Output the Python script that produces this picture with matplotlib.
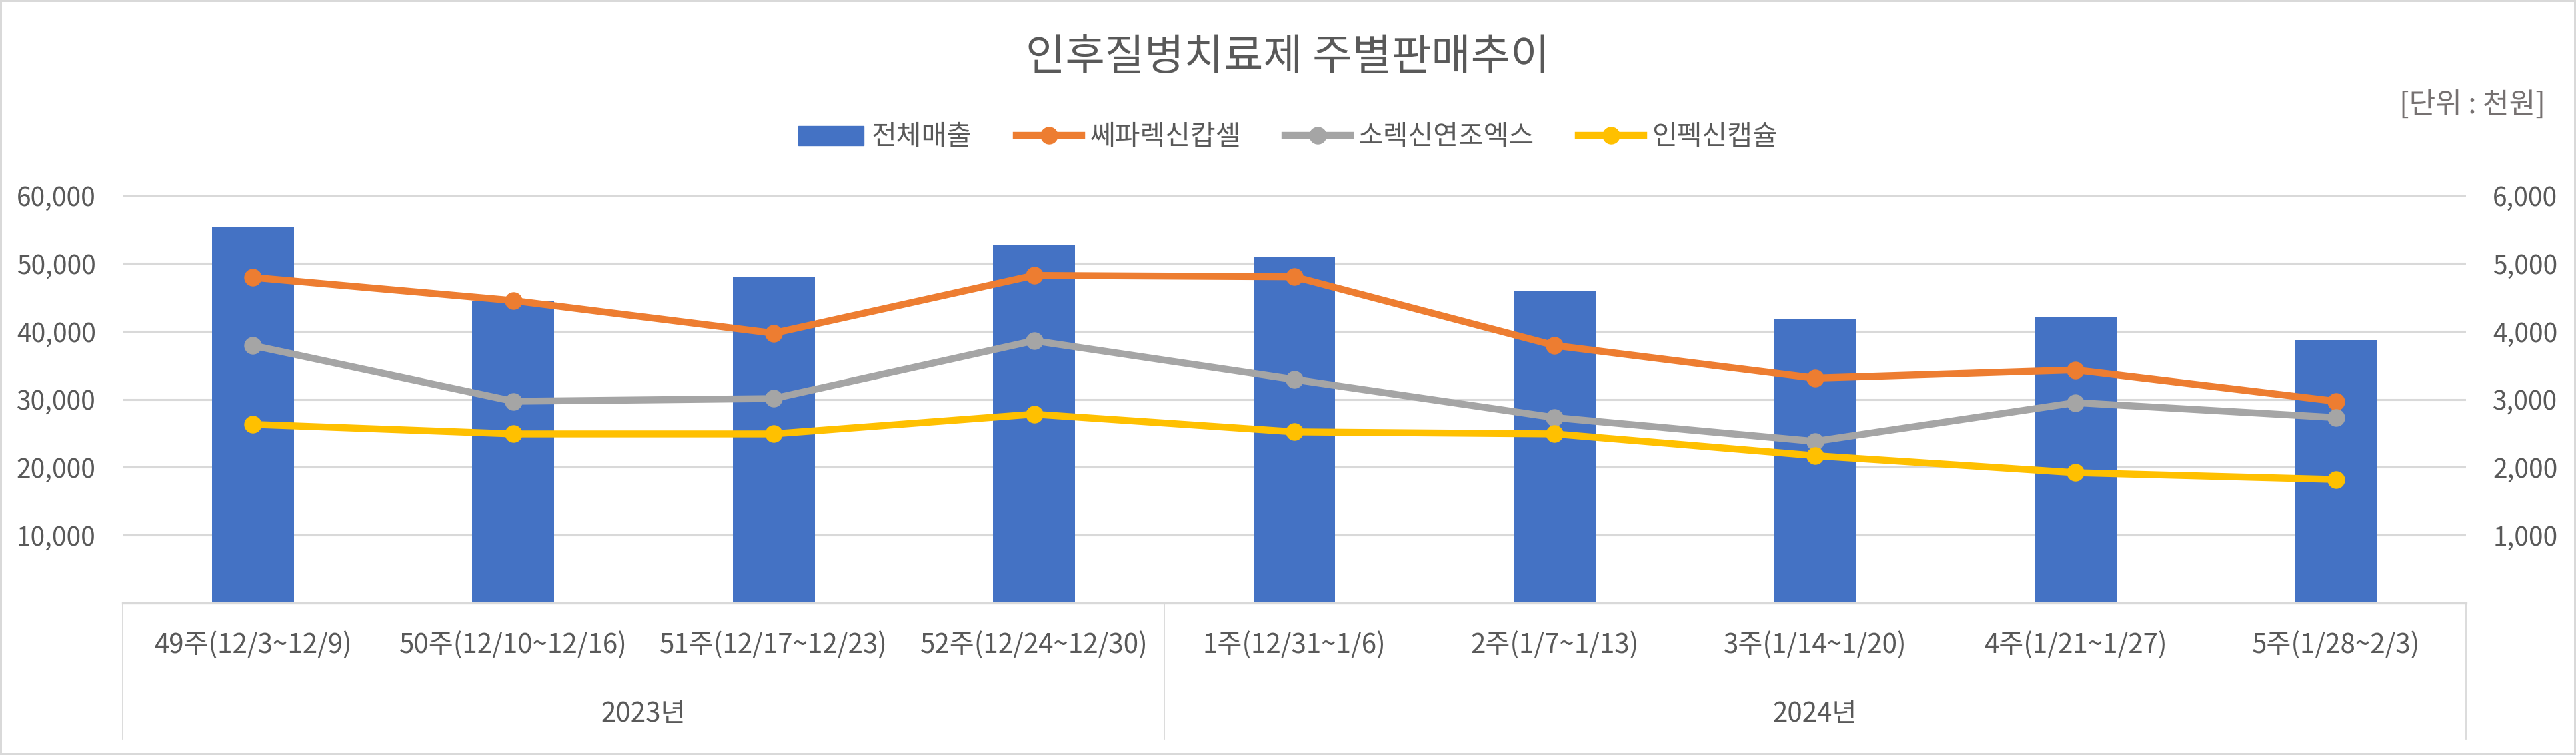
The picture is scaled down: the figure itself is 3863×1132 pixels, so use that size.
import matplotlib
matplotlib.use("Agg")
import matplotlib.pyplot as plt
import matplotlib.transforms as mtransforms
from matplotlib.patches import Patch
from matplotlib.lines import Line2D
from matplotlib.ticker import FuncFormatter
import numpy as np

plt.rcParams['font.family'] = ['Noto Sans CJK KR', 'DejaVu Sans']

# data (천원)
weeks = ['49주(12/3~12/9)', '50주(12/10~12/16)', '51주(12/17~12/23)', '52주(12/24~12/30)',
         '1주(12/31~1/6)', '2주(1/7~1/13)', '3주(1/14~1/20)', '4주(1/21~1/27)', '5주(1/28~2/3)']
years = ['2023년', '2024년']
year_counts = [4, 5]

total_sales = [55400, 44500, 47900, 52600, 50900, 46000, 41800, 42000, 38700]
cefalexin = [4790, 4450, 3970, 4820, 4800, 3790, 3310, 3430, 2970]
sorexin = [3790, 2970, 3010, 3860, 3290, 2730, 2380, 2950, 2730]
inpexin = [2630, 2490, 2490, 2780, 2520, 2490, 2170, 1920, 1820]

title = '인후질병치료제 주별판매추이'
unit_label = '[단위 : 천원]'
bar_name = '전체매출'
line_names = ['쎄파렉신캅셀', '소렉신연조엑스', '인펙신캡슐']

bar_color = '#4472C4'
line_colors = ['#ED7D31', '#A5A5A5', '#FFC000']
text_color = '#595959'
grid_color = '#D9D9D9'

W, H = 3863, 1132
fig = plt.figure(figsize=(W / 100, H / 100), dpi=100)
fig.patch.set_edgecolor(grid_color)
fig.patch.set_linewidth(4)

left, right, top, bottom = 184, 3698, 293, 904
ax = fig.add_axes([left / W, 1 - bottom / H, (right - left) / W, (bottom - top) / H])
ax2 = ax.twinx()

x = np.arange(len(weeks))
ax.bar(x, total_sales, width=0.315, color=bar_color, zorder=2)
ax.set_xlim(-0.5, len(weeks) - 0.5)
ax.set_ylim(0, 60000)
ax.set_yticks(np.arange(10000, 60001, 10000))
ax2.set_ylim(0, 6000)
ax2.set_yticks(np.arange(1000, 6001, 1000))

fmt = FuncFormatter(lambda v, p: f'{int(v):,}')
ax.yaxis.set_major_formatter(fmt)
ax2.yaxis.set_major_formatter(fmt)

for vals, c in zip([cefalexin, sorexin, inpexin], line_colors):
    ax2.plot(x, vals, color=c, lw=7.5, marker='o', markersize=18,
             solid_joinstyle='round', solid_capstyle='round', zorder=3)

ax.set_axisbelow(True)
ax.yaxis.grid(True, color=grid_color, lw=2.2)
for a in (ax, ax2):
    for s in a.spines.values():
        s.set_visible(False)
    a.tick_params(length=0, labelsize=28, labelcolor=text_color, pad=29)
ax.spines['bottom'].set_visible(True)
ax.spines['bottom'].set_color(grid_color)
ax.spines['bottom'].set_linewidth(2.4)

ax.set_xticks(x)
ax.set_xticklabels(weeks, fontsize=29)
ax.tick_params(axis='x', pad=30)

# year grouping below the category labels
trans = mtransforms.blended_transform_factory(ax.transData, ax.transAxes)
edges = np.concatenate([[0], np.cumsum(year_counts)]) - 0.5
for e in edges:
    ax.plot([e, e], [0, -0.334], transform=trans, clip_on=False, color=grid_color, lw=1.3)
for i, yr in enumerate(years):
    ax.text((edges[i] + edges[i + 1]) / 2, -0.272, yr, transform=trans, ha='center',
            va='center', fontsize=29, color=text_color)

fig.text(0.5, 1 - 87 / H, title, ha='center', va='center', fontsize=46.5, color=text_color)
fig.text(3817 / W, 1 - 158 / H, unit_label, ha='right', va='center', fontsize=31, color='#767171')

handles = [Patch(color=bar_color, label=bar_name)]
for n, c in zip(line_names, line_colors):
    handles.append(Line2D([], [], color=c, lw=7.5, marker='o', markersize=18, label=n))
fig.legend(handles=handles, loc='center', bbox_to_anchor=(0.5, 1 - 206 / H), ncol=4,
           frameon=False, fontsize=29.5, labelcolor=text_color, handlelength=2.4,
           handletextpad=0.3, columnspacing=1.6)

fig.savefig('out.png', dpi=100)
